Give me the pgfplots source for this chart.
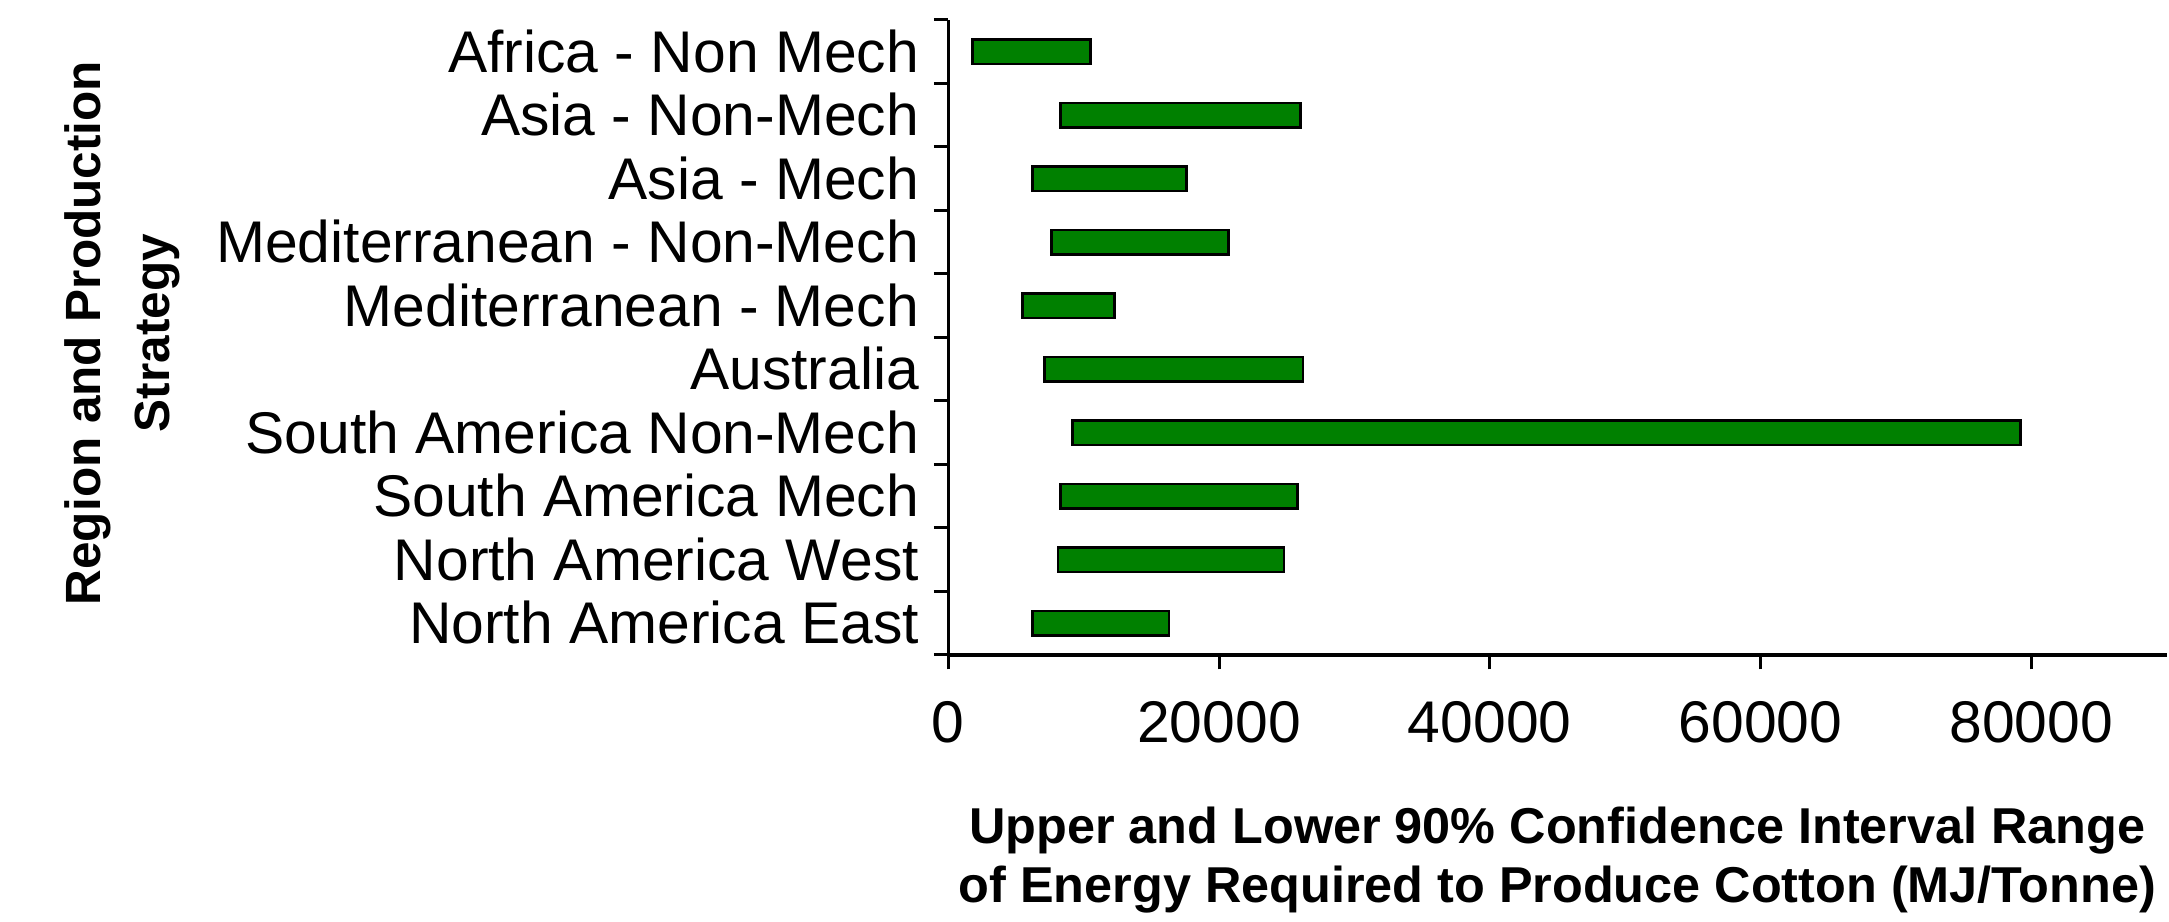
\documentclass[border=0pt]{standalone}
\usepackage{fontspec}
\setmainfont{Liberation Sans}
\usepackage{pgfplots}
\usepackage{pgfplotstable}
\pgfplotsset{compat=1.18}
\definecolor{barg}{RGB}{0,128,0}
\pgfplotstableread{
idx low high
0 6200 16300
1 8100 24800
2 8300 25800
3 9200 79200
4 7100 26200
5 5500 12300
6 7600 20700
7 6200 17600
8 8300 26000
9 1800 10500
}\ranges
\begin{document}
\begin{tikzpicture}
\useasboundingbox (0,0) rectangle (723pt,307.333pt);
\begin{axis}[
  at={(316.1pt,89pt)}, anchor=south west,
  scale only axis, width=406.07pt, height=211.67pt,
  xmin=0, xmax=90000, ymin=-0.5, ymax=9.5,
  xbar stacked, bar width=8.2pt,
  axis lines*=left,
  axis line style={line width=1.1pt, black},
  tick align=outside, major tick length=4.8pt,
  tick style={line width=1pt, black},
  xtick={0,20000,40000,60000,80000},
  scaled x ticks=false,
  /pgf/number format/.cd, 1000 sep={}, assume math mode=true, /pgfplots/.cd,
  xticklabel style={anchor=base, inner sep=0pt, yshift=-24.4pt, font=\fontsize{19.6}{23}\selectfont},
  ytick={-0.5,0.5,...,9.5},
  yticklabels={},
  extra y ticks={0,1,2,3,4,5,6,7,8,9},
  extra y tick labels={North America East, North America West, South America Mech, South America Non-Mech, Australia, Mediterranean - Mech, Mediterranean - Non-Mech, Asia - Mech, Asia - Non-Mech, Africa - Non Mech},
  extra y tick style={major tick length=0pt, yticklabel style={anchor=base east, inner sep=0pt, xshift=-9.6pt, yshift=-6.9pt, font=\fontsize{19.6}{23}\selectfont}},
  xlabel={Upper and Lower 90\% Confidence Interval Range\\of Energy Required to Produce Cotton (MJ/Tonne)},
  xlabel style={at={(axis description cs:0.5,0)}, anchor=base, yshift=-82.4pt, align=center, inner sep=0pt, font=\bfseries\fontsize{16.8}{19.4}\selectfont},
  ylabel={Region and Production\\Strategy},
  ylabel style={at={(axis description cs:-0.6389,0.507)}, anchor=base, align=center, inner sep=0pt, font=\bfseries\fontsize{16.5}{23}\selectfont},
]
\addplot[draw=none, fill=none, forget plot] table[x=low, y=idx]{\ranges};
\addplot[fill=barg, draw=black, line width=0.9pt] table[x expr=\thisrow{high}-\thisrow{low}, y=idx]{\ranges};
\end{axis}
\end{tikzpicture}
\end{document}
